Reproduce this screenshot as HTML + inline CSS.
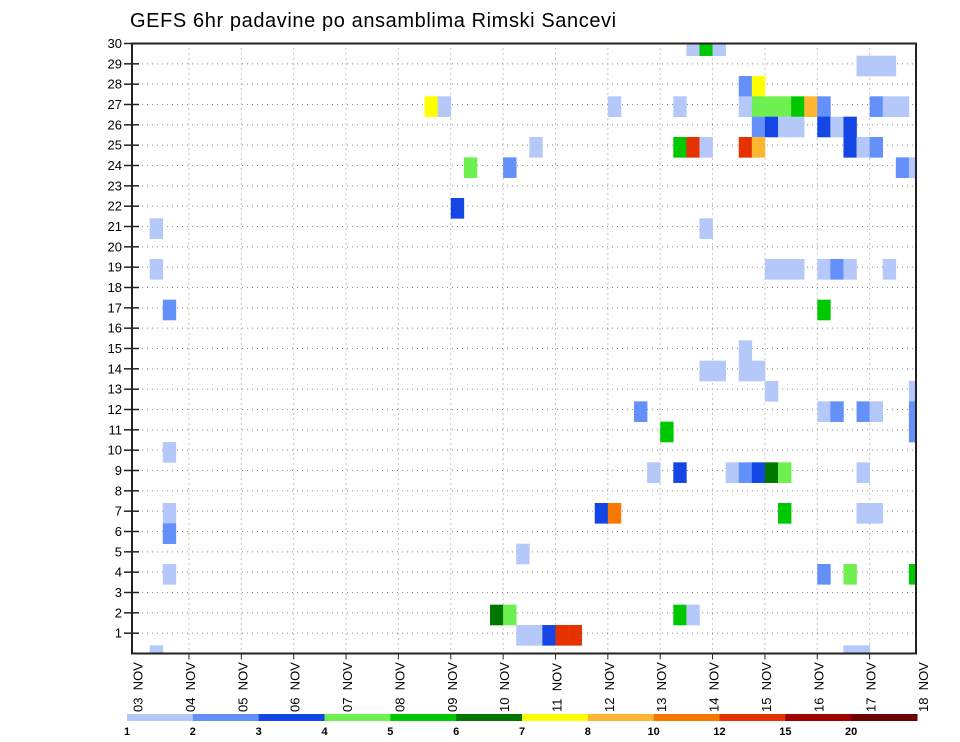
<!DOCTYPE html>
<html><head><meta charset="utf-8"><style>
html,body{margin:0;padding:0;background:#fff;}
svg{display:block;font-family:"Liberation Sans",sans-serif;}
</style></head><body>
<svg id="chart" width="960" height="742" viewBox="0 0 960 742" xmlns="http://www.w3.org/2000/svg">
<text x="130" y="27" font-size="20" fill="#000" letter-spacing="0.6">GEFS 6hr padavine po ansamblima Rimski Sancevi</text>
<defs><clipPath id="plotclip"><rect x="132" y="43.5" width="784" height="610"/></clipPath></defs>
<g id="grid"></g>
<g id="cells" clip-path="url(#plotclip)"></g>
<rect x="132" y="43.5" width="784" height="610" fill="none" stroke="#222" stroke-width="2"/>
<g id="axes"></g>
<g id="legend"></g>
</svg>
<script>
// Data: time step index (6h steps since 03 NOV 00z), ensemble member, precipitation (mm)
const rowMembers = [30,30,30, 29,29,29, 28,28,
 27,27,27,27,27,27,27,27,27,27,27,27,27,27,
 26,26,26,26,26,26,26,
 25,25,25,25,25,25,25,25,25,
 24,24,24,24, 22, 21,21,
 19,19,19,19,19,19,19,19, 17,17, 15, 14,14,14,14, 13,13,
 12,12,12,12,12,12, 11,11, 10,
 9,9,9,9,9,9,9,9, 7,7,7,7,7,7, 6, 5, 4,4,4,4, 2,2,2,2, 1,1,1,1,1, 0,0,0];
const timeSteps = [42,43,44, 55,56,57, 46,47,
 22,23,36,41,46,47,48,49,50,51,52,56,57,58,
 47,48,49,50,52,53,54,
 30,41,42,43,46,47,54,55,56,
 25,28,58,59, 24, 1,43,
 1,48,49,50,52,53,54,57, 2,52, 46, 43,44,46,47, 48,59,
 38,52,53,55,56,59, 40,59, 2,
 39,41,45,46,47,48,49,55, 2,35,36,49,55,56, 2, 29, 2,52,54,59, 27,28,41,42, 29,30,31,32,33, 1,54,55];
const precipValues = [1.5,5.5,1.5, 1.5,1.5,1.5, 2.5,7.5,
 7.5,1.5,1.5,1.5,1.5,4.5,4.5,4.5,5.5,9,2.5,2.5,1.5,1.5,
 2.5,3.5,1.5,1.5,3.5,1.5,3.5,
 1.5,5.5,13,1.5,13,9,3.5,1.5,2.5,
 4.5,2.5,2.5,1.5, 3.5, 1.5,1.5,
 1.5,1.5,1.5,1.5,1.5,2.5,1.5,1.5, 2.5,5.5, 1.5, 1.5,1.5,1.5,1.5, 1.5,1.5,
 2.5,1.5,2.5,2.5,1.5,2.5, 5.5,2.5, 1.5,
 1.5,3.5,1.5,2.5,3.5,6.5,4.5,1.5, 1.5,3.5,11,5.5,1.5,1.5, 2.5, 1.5, 1.5,2.5,4.5,5.5, 6.5,4.5,5.5,1.5, 1.5,1.5,3.5,13,13, 1.5,1.5,1.5];
const levels = [1,2,3,4,5,6,7,8,10,12,15,20];
const levelColors = ["#b4c8fa","#6490fa","#1446e6","#6ef050","#00c800","#007800","#ffff00","#ffb432","#fa7800","#e63200","#a00000","#6e0000"];
const dateDays = ["03","04","05","06","07","08","09","10","11","12","13","14","15","16","17","18"];
const memberTicks = [1,2,3,4,5,6,7,8,9,10,11,12,13,14,15,16,17,18,19,20,21,22,23,24,25,26,27,28,29,30];

const NS="http://www.w3.org/2000/svg";
const X0=136.6, DAY=52.36, STEP=DAY/4, PT=43.5, PB=653.5, L=132, R=916;
const xDay = d => X0 + d*DAY;
const xStep = t => X0 + t*STEP;
const yMem = m => PT + (30-m)*(PB-PT)/30;
const colorFor = v => { let c=null; for(let i=0;i<levels.length;i++){ if(v>=levels[i]) c=levelColors[i]; } return c; };
function mk(tag, attrs, parent){ const e=document.createElementNS(NS,tag); for(const k in attrs) e.setAttribute(k,attrs[k]); parent.appendChild(e); return e; }

const grid=document.getElementById('grid'), cells=document.getElementById('cells'), axes=document.getElementById('axes'), legend=document.getElementById('legend');
for(let m=1;m<30;m++){
  const ln=mk('line',{x1:L,x2:R,y1:yMem(m),y2:yMem(m),stroke:'#888','stroke-width':1,'stroke-dasharray':'1,4'},grid);
  
  
}
for(let d=1;d<15;d++){
  const ln=mk('line',{x1:xDay(d),x2:xDay(d),y1:PT,y2:PB,stroke:'#888','stroke-width':1,'stroke-dasharray':'1,4'},grid);
  
  
}
const H=(PB-PT)/30;
for(let i=0;i<precipValues.length;i++){
  const c=colorFor(precipValues[i]); if(!c) continue;
  const r=mk('rect',{x:xStep(timeSteps[i]),y:yMem(rowMembers[i])-H/2+2,width:STEP+0.3,height:H+0.3,fill:c},cells);
  
  
}
memberTicks.forEach(m=>{
  const y=yMem(m);
  const t=mk('line',{x1:124,x2:139,y1:y,y2:y,stroke:'#222','stroke-width':1.5},axes);
  
  
  const tx=mk('text',{x:122,y:y+4.5,'text-anchor':'end','font-size':13,fill:'#000'},axes);
  tx.textContent=m;
  
  
});
dateDays.forEach((lab,d)=>{
  const x=xDay(d);
  if(d>0&&d<15){
    const t=mk('line',{x1:x,x2:x,y1:PB,y2:PB+6,stroke:'#222','stroke-width':1},axes);
    
    
  }
  const tx=mk('text',{x:0,y:0,'font-size':13,fill:'#000','xml:space':'preserve',transform:`translate(${x+6},712) rotate(-90)`},axes);
  tx.setAttribute('style','white-space:pre');
  tx.textContent=lab+"  NOV";
  
  
});
const LX=127, LW=(917-127)/levels.length;
levels.forEach((lv,i)=>{
  const r=mk('rect',{x:LX+i*LW,y:714,width:LW+0.5,height:7,fill:levelColors[i]},legend);
  
  
  const tx=mk('text',{x:LX+i*LW,y:735,'text-anchor':'middle','font-size':11,'font-weight':'bold',fill:'#000'},legend);
  tx.textContent=lv;
  
  
});
</script>
</body></html>
